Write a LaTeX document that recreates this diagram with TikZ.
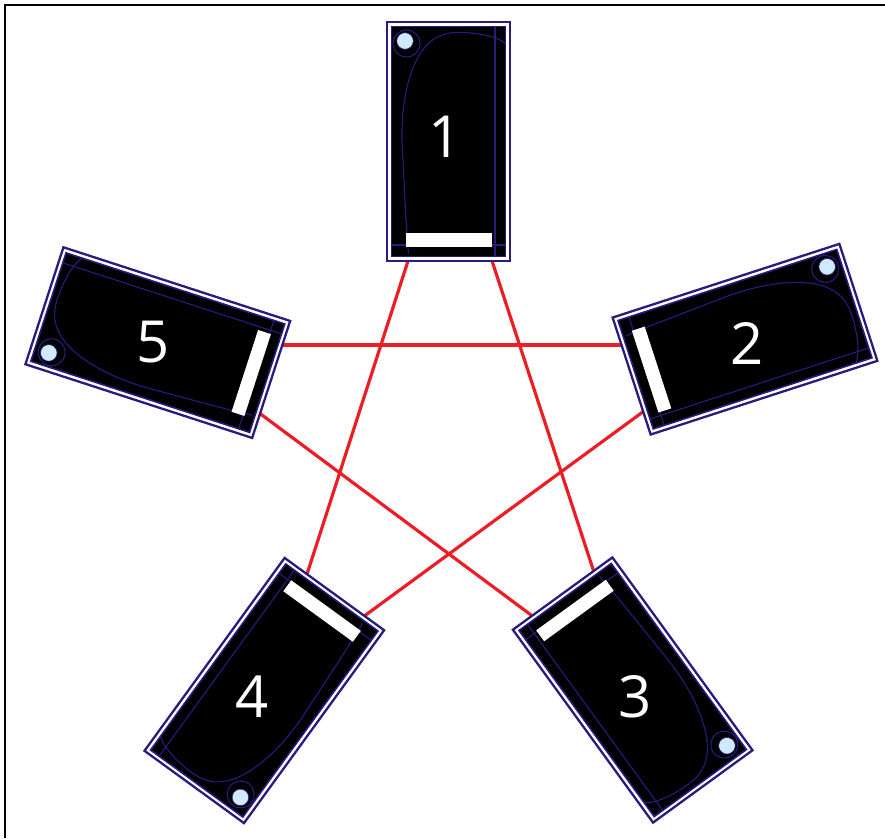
\documentclass[tikz,border=0pt]{standalone}
\usepackage{fontspec}
\setmainfont{Open Sans}
\definecolor{navy}{RGB}{40,28,125}
\definecolor{ltblue}{RGB}{206,234,252}
\definecolor{pred}{RGB}{235,30,40}
\tikzset{
  cardouter/.style={draw=navy, line width=2.3pt, fill=white},
  cardinner/.style={draw=navy, line width=1.6pt, fill=black},
  cardline/.style={draw=navy, line width=1.1pt},
  barfill/.style={fill=white},
  hole/.style={fill=ltblue, draw=navy, line width=0.6pt},
  link/.style={draw=pred, line width=3.2pt},
  num/.style={text=white, font=\fontsize{58}{58}\selectfont, inner sep=0pt},
}
\newcommand{\drawcard}{%
  \path[cardouter] (-61.5,-119.2) rectangle (61.5,119.2);
  \path[cardinner] (-57,-115) rectangle (57,115);
  \path[cardline] (46.5,-115) -- (46.5,115);
  \path[cardline] (-57,103.5) -- (57,103.5);
  \path[cardline] (-42,-98) circle (13.5pt);
  \path[cardline] (-29,-87) .. controls (-18,-104) and (-5,-110) .. (15,-109) .. controls (35,-108) and (50,-104) .. (57,-98);
  \path[cardline] (-29,-87) .. controls (-45,-60) and (-48,-20) .. (-46,10) .. controls (-44,50) and (-42,90) .. (-40,112);
  \path[hole] (-43.5,-100.5) circle (8.3pt);
  \path[barfill] (-43,91.5) rectangle (43,105);
}
\begin{document}
\begin{tikzpicture}[x=1pt,y=-1pt]
\useasboundingbox (0,0) rectangle (885,838);
\draw[black, line width=2pt] (5,838) -- (5,5) -- (885,5);
% pentagram vertices
\coordinate (v1) at (449.7,131.7);
\coordinate (v2) at (734.2,345);
\coordinate (v3) at (632.8,690.6);
\coordinate (v4) at (271.6,683.9);
\coordinate (v5) at (167.7,345);
\draw[link] (v1) -- (v3);
\draw[link] (v1) -- (v4);
\draw[link] (v2) -- (v4);
\draw[link] (v2) -- (v5);
\draw[link] (v5) -- (v3);
% cards
\begin{scope}[shift={(448.5,141.5)}] \drawcard \end{scope}
\begin{scope}[shift={(745,339.2)}, rotate=-72] \drawcard \end{scope}
\begin{scope}[shift={(632.7,690)}, rotate=-144] \drawcard \end{scope}
\begin{scope}[shift={(264.3,690.5)}, rotate=144] \drawcard \end{scope}
\begin{scope}[shift={(157.8,342.6)}, rotate=72] \drawcard \end{scope}
% numbers
\node[num] (n1) at (445,136.7) {1};
\node[num] (n2) at (746.7,343.3) {2};
\node[num] (n3) at (635,696.7) {3};
\node[num] (n4) at (251.7,696.7) {4};
\node[num] (n5) at (153.3,341.7) {5};
\end{tikzpicture}
\end{document}
